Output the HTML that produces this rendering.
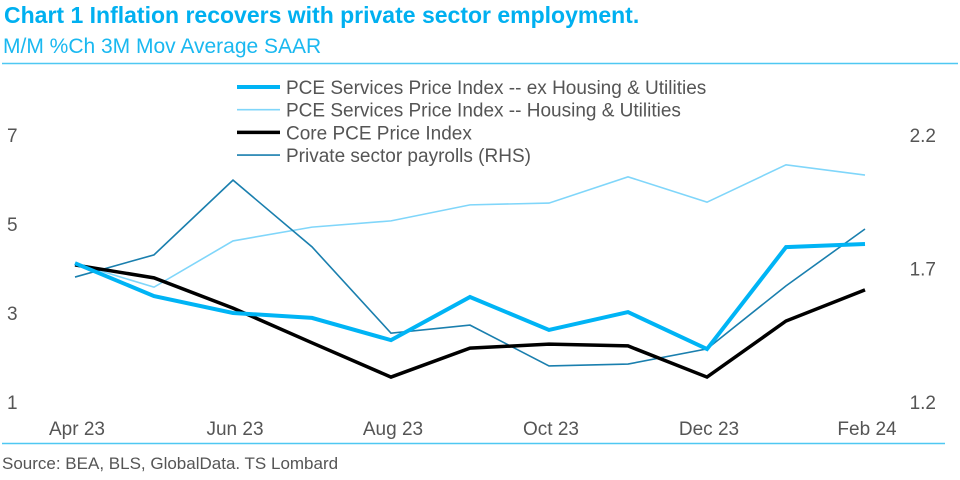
<!DOCTYPE html>
<html><head><meta charset="utf-8"><style>
body{margin:0;background:#fff;width:960px;height:475px;overflow:hidden;font-family:"Liberation Sans",sans-serif}
</style></head><body>
<svg width="960" height="475">
<text x="4" y="23" font-size="23" font-weight="bold" fill="#00b0f0">Chart 1 Inflation recovers with private sector employment.</text>
<text x="3" y="53" font-size="21" fill="#1ab8f0">M/M %Ch 3M Mov Average SAAR</text>
<line x1="2" y1="63.5" x2="958" y2="63.5" stroke="#4fc8f2" stroke-width="1.5"/>
<line x1="2" y1="443.5" x2="945" y2="443.5" stroke="#4fc8f2" stroke-width="1.5"/>
<text x="2" y="469" font-size="17" fill="#555">Source: BEA, BLS, GlobalData. TS Lombard</text>
<g id="axes"></g>
<g id="series"></g>
<g id="legend"></g>
</svg>
<script>
const categories=["Apr 23","May 23","Jun 23","Jul 23","Aug 23","Sep 23","Oct 23","Nov 23","Dec 23","Jan 24","Feb 24"];
const exHousing=[4.12,3.38,3.0,2.89,2.39,3.36,2.62,3.02,2.19,4.48,4.55];
const housing=[4.12,3.58,4.62,4.93,5.07,5.43,5.47,6.06,5.49,6.33,6.10];
const corePce=[4.08,3.79,3.11,2.33,1.56,2.21,2.30,2.26,1.56,2.82,3.52];
const payrolls=[1.668,1.751,2.031,1.781,1.458,1.488,1.335,1.342,1.399,1.635,1.848];
const leftTicks=[1,3,5,7];
const rightTicks=["1.2","1.7","2.2"];
const xLabelIdx=[0,2,4,6,8,10];
const legendLabels=["PCE Services Price Index -- ex Housing & Utilities","PCE Services Price Index -- Housing & Utilities","Core PCE Price Index","Private sector payrolls (RHS)"];
const NS="http://www.w3.org/2000/svg";
const x0=75,x1=865,yTop=135,yBot=402;
const xs=i=>x0+(x1-x0)*i/(categories.length-1);
const yL=v=>yBot-(v-1)/(7-1)*(yBot-yTop);
const yR=v=>yBot-(v-1.2)/(2.2-1.2)*(yBot-yTop);
function mk(tag,attrs,parent){const e=document.createElementNS(NS,tag);for(const k in attrs)e.setAttribute(k,attrs[k]);parent.appendChild(e);return e;}
const axes=document.getElementById('axes');
leftTicks.forEach(v=>{const t=mk('text',{x:7,y:yL(v)+7,'font-size':19,fill:'#555'},axes);t.textContent=v;

});
rightTicks.forEach(v=>{const t=mk('text',{x:936,y:yR(+v)+7,'font-size':19,fill:'#555','text-anchor':'end'},axes);t.textContent=v;

});
xLabelIdx.forEach(i=>{const t=mk('text',{x:xs(i)+2,y:435,'font-size':19,fill:'#555','text-anchor':'middle'},axes);t.textContent=categories[i];

});
const styles=[
 {data:housing,y:yL,c:'#80d6fa',w:1.6,n:'line-housing-utilities'},
 {data:payrolls,y:yR,c:'#1a7fae',w:1.6,n:'line-private-payrolls'},
 {data:corePce,y:yL,c:'#000',w:3.5,n:'line-core-pce'},
 {data:exHousing,y:yL,c:'#00b4f5',w:4,n:'line-ex-housing-utilities'}];
const sg=document.getElementById('series');
styles.forEach(s=>{const p=mk('polyline',{points:s.data.map((v,i)=>xs(i)+','+s.y(v)).join(' '),fill:'none',stroke:s.c,'stroke-width':s.w,'stroke-linejoin':'miter'},sg);

});
const lg=document.getElementById('legend');
const lc=[['#00b4f5',4],['#80d6fa',1.6],['#000',3.5],['#1a7fae',1.6]];
legendLabels.forEach((l,i)=>{const y=87+i*22.7;
const g=mk('g',{},lg);


mk('line',{x1:237,x2:280,y1:y,y2:y,stroke:lc[i][0],'stroke-width':lc[i][1]},g);
const t=mk('text',{x:286,y:y+7,'font-size':19,fill:'#555'},g);t.textContent=l;});
</script>
</body></html>
